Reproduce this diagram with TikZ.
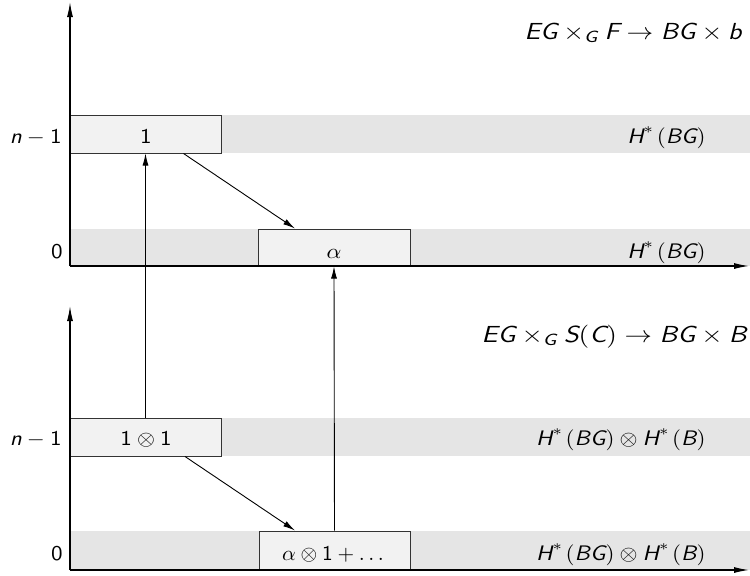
\RequirePackage{fix-cm}
\documentclass[tikz,border=0pt]{standalone}
\usepackage{amsmath}
\usepackage{graphicx}
\usetikzlibrary{arrows.meta,calc}
\definecolor{bandgray}{HTML}{E5E5E5}
\definecolor{boxfill}{HTML}{F2F2F2}
\definecolor{boxline}{HTML}{333333}
\newcommand{\sv}[1]{\text{\sffamily\slshape #1}}
\newcommand{\sn}[1]{\text{\sffamily #1}}
\newcommand{\Hs}{\sv{H}^{*}\mkern2mu}
\newcommand{\wlab}[2][1.1]{\scalebox{#1}[1]{$#2$}}
\begin{document}
\begin{tikzpicture}[x=0.5pt,y=0.5pt,
  band/.style={fill=bandgray,draw=none,inner sep=0pt,minimum width=340pt,minimum height=19pt},
  cellbox/.style={fill=boxfill,draw=boxline,line width=0.5pt,inner sep=0pt,minimum width=75.5pt,minimum height=19pt},
  axis/.style={line width=0.6pt,-{Latex[length=7.5pt,width=3pt]}},
  arr/.style={line width=0.45pt,-{Latex[length=6pt,width=3pt]}},
  lab/.style={inner sep=0pt,font=\fontsize{10.5}{12}\selectfont},
  ttl/.style={inner sep=0pt,font=\fontsize{11.6}{14}\selectfont}]
\useasboundingbox (0,0) rectangle (750,-575);
% ---------- top diagram ----------
\node[band] (tb1) at (410,-134) {};
\node[band,minimum height=18.5pt] (tb0) at (410,-247.5) {};
\node[cellbox] (t1) at (145.5,-134) {};
\node[lab,anchor=base] (t1t) at (146,-143) {\wlab{\sn{1}}};
\node[cellbox,minimum height=18.5pt,minimum width=76pt] (ta) at (334,-247.5) {};
\node[lab,anchor=base] (tat) at (334,-258) {\wlab{\alpha}};
\coordinate (tO) at (70,-266);
\coordinate (tY) at (70,-2);
\coordinate (tX) at (749,-266);
\draw[axis] (tO) -- (tY);
\draw[axis] (tO) -- (tX);
\node[lab,anchor=base east] (tln1) at (62,-143) {\wlab{\sv{n}-\sn{1}}};
\node[lab,anchor=base east] (tl0) at (63,-258) {\wlab{\sn{0}}};
\node[lab,anchor=base east] (th1) at (706,-143) {\wlab{\Hs(\sv{BG})}};
\node[lab,anchor=base east] (th0) at (706,-258) {\wlab{\Hs(\sv{BG})}};
\node[ttl,anchor=base east] (ttitle) at (742,-39) {\wlab[1.15]{\sv{EG}\times_{\sv{G}}\sv{F}\to\sv{BG}\times\sv{b}}};
\draw[arr] ($(t1.south west)!0.75!(t1.south east)$) -- ($(ta.north west)!0.245!(ta.north east)$);
% ---------- bottom diagram ----------
\node[band] (bb1) at (410,-437) {};
\node[band,minimum height=19.5pt] (bb0) at (410,-550.5) {};
\node[cellbox] (b1) at (145.5,-437) {};
\node[lab,anchor=base] (b1t) at (146,-445) {\wlab{\sn{1}\otimes\sn{1}}};
\node[cellbox,minimum height=19.5pt] (ba) at (334.5,-550.5) {};
\node[lab,anchor=base] (bat) at (333,-560) {\wlab[1.02]{\alpha\otimes\sn{1}+\ldots}};
\coordinate (bO) at (70,-570);
\coordinate (bY) at (70,-306);
\coordinate (bX) at (749,-570);
\draw[axis] (bO) -- (bY);
\draw[axis] (bO) -- (bX);
\node[lab,anchor=base east] (bln1) at (62,-445) {\wlab{\sv{n}-\sn{1}}};
\node[lab,anchor=base east] (bl0) at (63,-560) {\wlab{\sn{0}}};
\node[lab,anchor=base east] (bh1) at (706,-445) {\wlab{\Hs(\sv{BG})\otimes\Hs(\sv{B})}};
\node[lab,anchor=base east] (bh0) at (706,-560) {\wlab{\Hs(\sv{BG})\otimes\Hs(\sv{B})}};
\node[ttl,anchor=base east] (btitle) at (747,-342) {\wlab[1.18]{\sv{EG}\times_{\sv{G}}\sv{S}(\sv{C})\to\sv{BG}\times\sv{B}}};
\draw[arr] ($(b1.south west)!0.76!(b1.south east)$) -- ($(ba.north west)!0.24!(ba.north east)$);
% ---------- vertical connectors ----------
\draw[arr] (b1.north) -- (t1.south);
\draw[arr] (ba.north) -- (ta.south);
\end{tikzpicture}
\end{document}
